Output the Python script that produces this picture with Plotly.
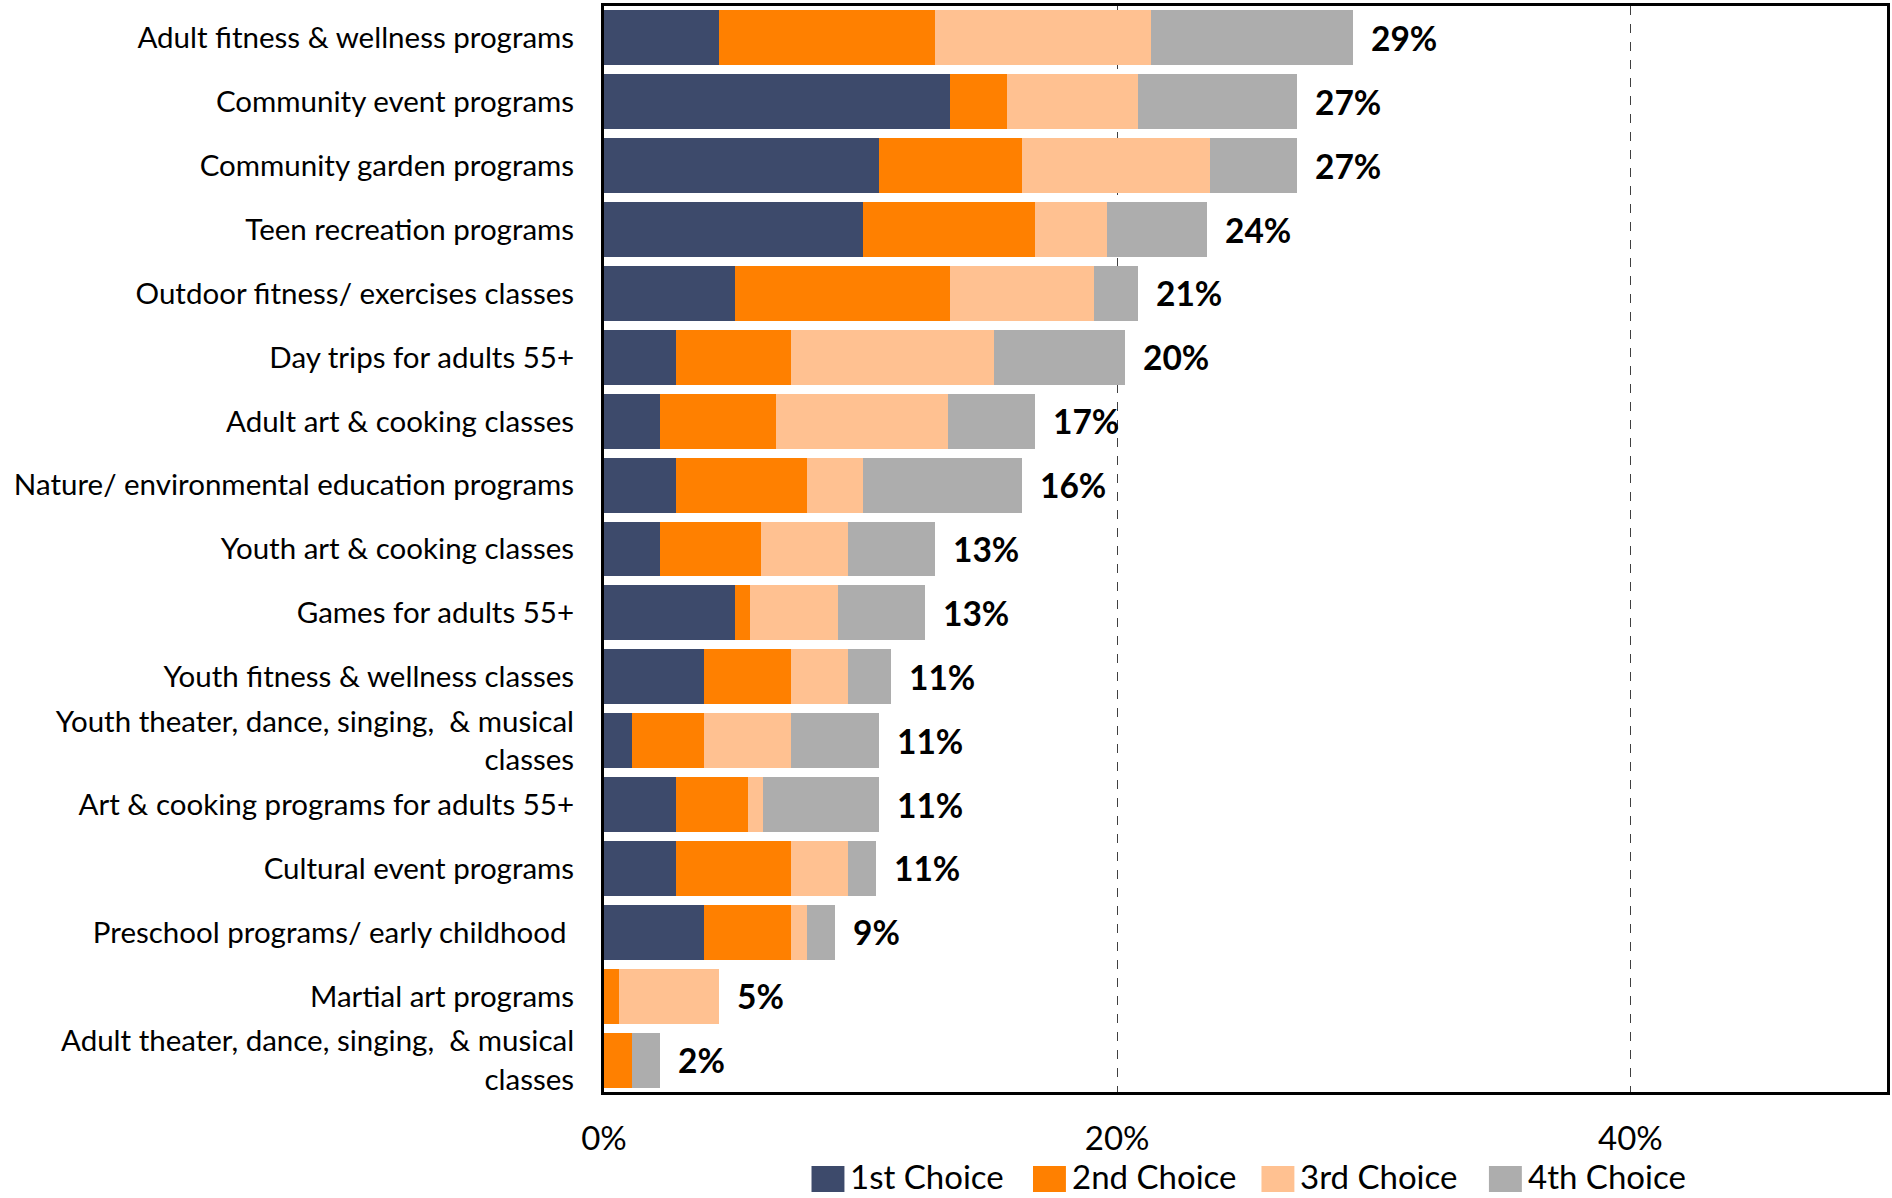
import math
import plotly.graph_objects as go

# Programs, listed top to bottom
categories = [
    "Adult fitness & wellness programs",
    "Community event programs",
    "Community garden programs",
    "Teen recreation programs",
    "Outdoor fitness/ exercises classes",
    "Day trips for adults 55+",
    "Adult art & cooking classes",
    "Nature/ environmental education programs",
    "Youth art & cooking classes",
    "Games for adults 55+",
    "Youth fitness & wellness classes",
    "Youth theater, dance, singing,  & musical<br>classes",
    "Art & cooking programs for adults 55+",
    "Cultural event programs",
    "Preschool programs/ early childhood ",
    "Martial art programs",
    "Adult theater, dance, singing,  & musical<br>classes",
]

# Share of respondents (%) ranking each program as their 1st..4th choice
first_choice = [4.5, 13.5, 10.7, 10.1, 5.1, 2.8, 2.2, 2.8, 2.2, 5.1, 3.9, 1.1, 2.8, 2.8, 3.9, 0.0, 0.0]
second_choice = [8.4, 2.2, 5.6, 6.7, 8.4, 4.5, 4.5, 5.1, 3.9, 0.6, 3.4, 2.8, 2.8, 4.5, 3.4, 0.6, 1.1]
third_choice = [8.4, 5.1, 7.3, 2.8, 5.6, 7.9, 6.7, 2.2, 3.4, 3.4, 2.2, 3.4, 0.6, 2.2, 0.6, 3.9, 0.0]
fourth_choice = [7.9, 6.2, 3.4, 3.9, 1.7, 5.1, 3.4, 6.2, 3.4, 3.4, 1.7, 3.4, 4.5, 1.1, 1.1, 0.0, 1.1]

series_names = ["1st Choice", "2nd Choice", "3rd Choice", "4th Choice"]
series_colors = ["#3D4A6B", "#FF8000", "#FFC191", "#ADADAD"]

x_ticks = [0, 20, 40]

FONT = "Lato"

fig = go.Figure()
for name, vals, color in zip(series_names,
                             [first_choice, second_choice, third_choice, fourth_choice],
                             series_colors):
    fig.add_trace(go.Bar(
        y=categories, x=vals, name=name, orientation="h",
        marker=dict(color=color, line=dict(width=0)),
        showlegend=False, hoverinfo="skip",
    ))

# Total labels at the end of each stacked bar
totals = [round(a + b + c + d, 1) for a, b, c, d in
          zip(first_choice, second_choice, third_choice, fourth_choice)]
for cat, tot in zip(categories, totals):
    fig.add_annotation(
        x=tot, y=cat, xref="x", yref="y",
        text=f"<b>{math.floor(tot + 0.5)}%</b>",
        showarrow=False, xanchor="left", yanchor="middle", xshift=16,
        font=dict(family=FONT, size=33.5, color="black"),
    )

# Legend drawn as large colour squares with captions below the plot
legend_x = [812, 1034, 1263, 1491]
W, H = 1892, 1198
PX0, PX1, PY0, PY1 = 604, 1890, 6, 1092
for name, color, lx in zip(series_names, series_colors, legend_x):
    fig.add_shape(
        type="rect", xref="paper", yref="paper",
        x0=(lx - PX0) / (PX1 - PX0), x1=(lx + 33 - PX0) / (PX1 - PX0),
        y0=-(1192 - PY1) / (PY1 - PY0), y1=-(1166 - PY1) / (PY1 - PY0),
        fillcolor=color, line=dict(width=0),
    )
    fig.add_annotation(
        x=(lx + 37 - PX0) / (PX1 - PX0), y=-(1176 - PY1) / (PY1 - PY0),
        xref="paper", yref="paper", text=name, showarrow=False,
        xanchor="left", yanchor="middle",
        font=dict(family=FONT, size=33, color="black"),
    )

fig.update_layout(
    barmode="stack",
    bargap=0.14,
    width=W, height=H,
    margin=dict(l=PX0, r=W - PX1, t=PY0, b=H - PY1),
    paper_bgcolor="white", plot_bgcolor="white",
    font=dict(family=FONT, color="black"),
)
fig.update_xaxes(
    range=[0, 50], tickvals=x_ticks, ticktext=[f"{v}%" for v in x_ticks],
    showgrid=True, gridcolor="#404040", gridwidth=1, griddash="dash",
    zeroline=False, showline=True, mirror=True, linecolor="black", linewidth=3,
    ticks="", ticklabelstandoff=15,
    tickfont=dict(family=FONT, size=33, color="black"),
)
fig.update_yaxes(
    categoryorder="array", categoryarray=categories, autorange="reversed",
    showgrid=False, zeroline=False, showline=True, mirror=True,
    linecolor="black", linewidth=3, ticks="", ticklabelstandoff=21,
    tickfont=dict(family=FONT, size=29.5, color="black"),
)

fig.write_html("out.html")
